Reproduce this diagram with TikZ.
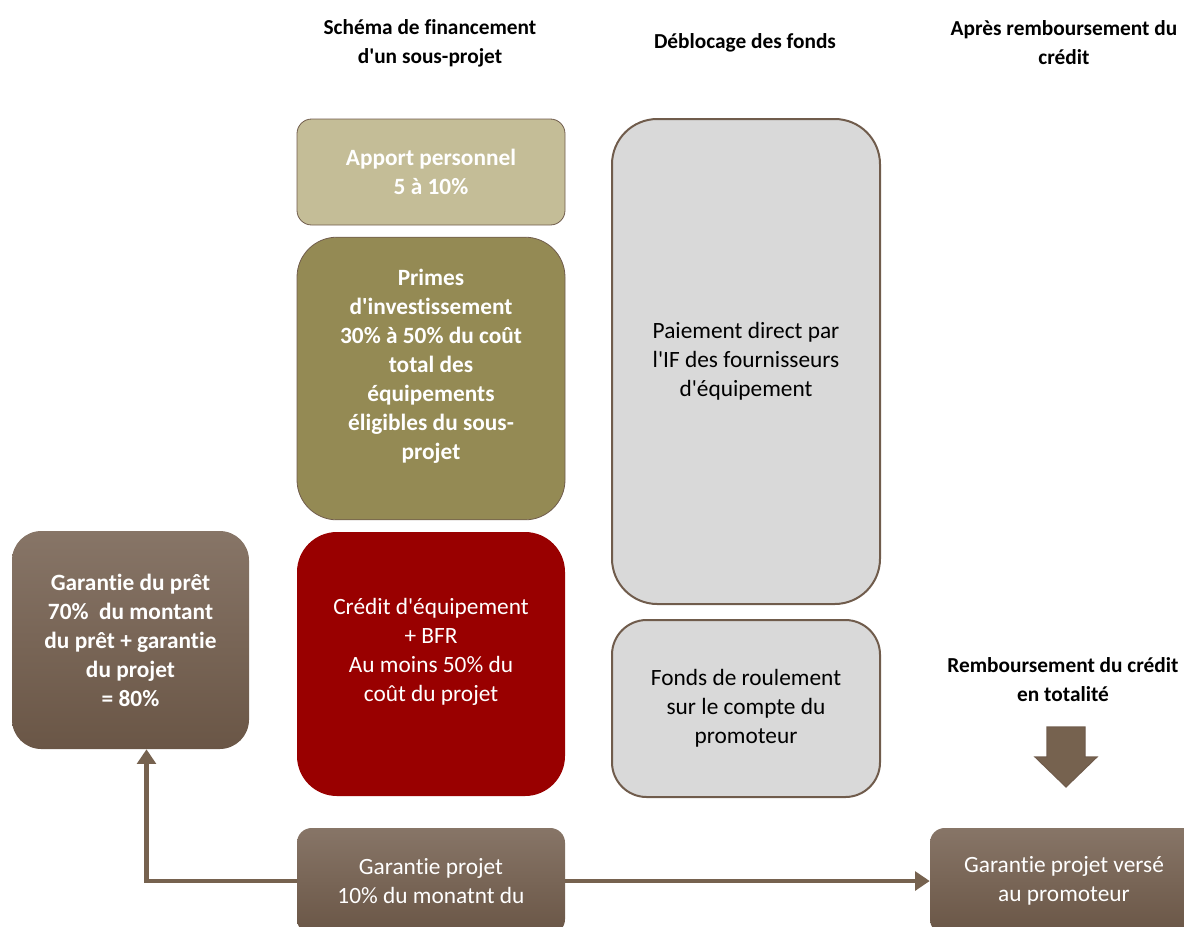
\documentclass[tikz,border=0pt]{standalone}
\usepackage{fontspec}
\setmainfont{Carlito}[Ligatures={NoCommon,TeXOff}]
\usetikzlibrary{arrows.meta}

\definecolor{sable}{HTML}{C4BD97}
\definecolor{olive}{HTML}{948A54}
\definecolor{bordeaux}{HTML}{990000}
\definecolor{gris}{HTML}{D9D9D9}
\definecolor{brunhaut}{HTML}{877567}
\definecolor{brunbas}{HTML}{6A5646}
\definecolor{brun}{HTML}{76624F}
\definecolor{contour}{HTML}{705C4C}

\newcommand{\txt}{\fontsize{17.5}{21.75}\selectfont}
\newcommand{\gras}{\fontsize{17.5}{21.75}\selectfont\bfseries}
\newcommand{\entete}{\fontsize{16}{21.75}\selectfont\bfseries}

\tikzset{
  titre/.style={align=center, font=\entete},
  bloc/.style={rounded corners=#1, align=center, inner sep=0pt, minimum width=201pt},
  degrade/.style={top color=brunhaut, bottom color=brunbas, draw=none},
  fleche/.style={draw=brun, line width=3.2pt, -{Triangle[width=14pt,length=11pt]}},
}

\begin{document}
\begin{tikzpicture}[x=0.75pt,y=-0.75pt]
  \path[use as bounding box, clip] (0,0) rectangle (1184,926);

  % titres des colonnes
  \node[titre] (schema)    at (430,43)   {Schéma de financement\\d'un sous-projet};
  \node[titre] (deblocage) at (745,43)   {Déblocage des fonds};
  \node[titre] (apres)     at (1064,43)  {Après remboursement du\\crédit};
  \node[titre] (rembours)  at (1063,680) {Remboursement du crédit\\en totalité};

  % schema de financement
  \node[bloc=11pt, fill=sable, draw=contour, line width=0.6pt, minimum height=79.5pt,
        text=white, font=\gras] (apport) at (431,172) {Apport personnel\\5 à 10\%};
  \node[bloc=30pt, fill=olive, draw=contour, line width=0.6pt, minimum height=212pt,
        text=white, font=\gras] (primes) at (431,378.5)
        {Primes\\d'investissement\\30\% à 50\% du coût\\total des\\équipements\\éligibles du sous-\\projet\\~};
  \node[bloc=30pt, fill=bordeaux, minimum height=198pt, text=white, font=\txt] (credit) at (431,664)
        {Crédit d'équipement\\+ BFR\\Au moins 50\% du\\coût du projet\\~};
  \node[bloc=11pt, degrade, minimum height=79.5pt, text=white, font=\txt] (garproj) at (431,881)
        {Garantie projet\\10\% du monatnt du};

  % deblocage des fonds
  \node[bloc=34pt, fill=gris, draw=contour, line width=1.5pt, minimum height=363.75pt,
        font=\txt] (paiement) at (746,361.5) {Paiement direct par\\l'IF des fournisseurs\\d'équipement};
  \node[bloc=26pt, fill=gris, draw=contour, line width=1.5pt, minimum height=132.75pt,
        font=\txt] (fonds) at (746,708.5) {Fonds de roulement\\sur le compte du\\promoteur};

  % garantie
  \node[bloc=22pt, degrade, minimum width=177.75pt, minimum height=163.5pt, text=white,
        font=\gras] (garpret) at (130.5,640)
        {Garantie du prêt\\70\%~ du montant\\du prêt + garantie\\du projet\\= 80\%};
  \node[bloc=11pt, degrade, minimum height=79.5pt, text=white, font=\txt] (verse) at (1064,881)
        {Garantie projet versé\\au promoteur};

  % connecteurs
  \draw[fleche] (garproj.west) -| ([xshift=12pt]garpret.south);
  \draw[fleche] (garproj.east) -- (verse.west);

  % fleche de remboursement
  \fill[brun, draw=contour, line width=0.8pt]
    (1047,727) -- (1085,727) -- (1085,757) -- (1097,757) -- (1066,787)
    -- (1035,757) -- (1047,757) -- cycle;
\end{tikzpicture}
\end{document}
